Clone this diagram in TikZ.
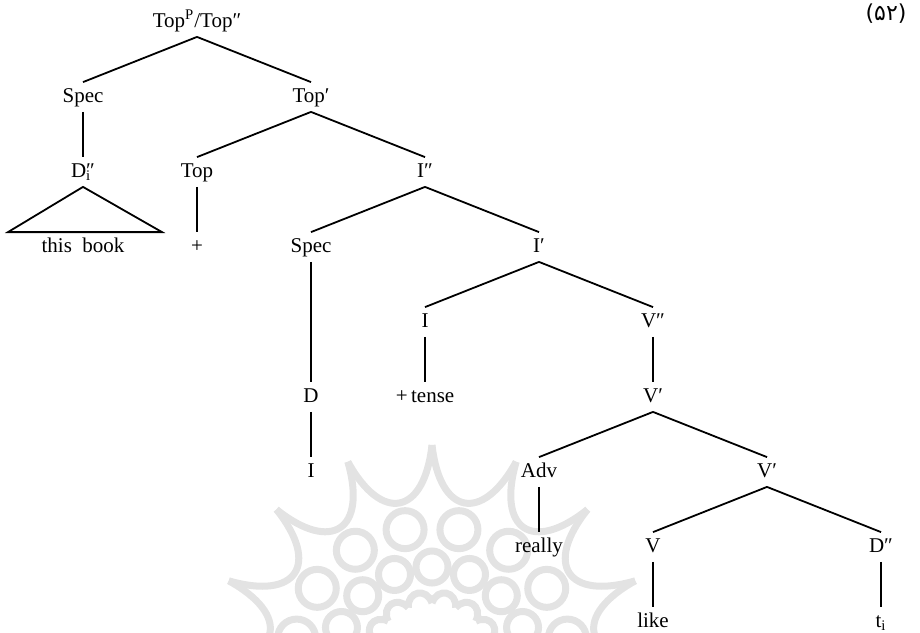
\documentclass[tikz,border=0pt]{standalone}
\usepackage{fontspec}
\setmainfont{Liberation Serif}
\newfontfamily\persianfont[Script=Arabic]{DejaVu Sans}
\usetikzlibrary{positioning, calc}

\begin{document}
\begin{tikzpicture}[
    cat/.style={inner sep=2.5pt, text height=7.5pt, text depth=2pt, font=\fontsize{10.5}{12}\selectfont},
    branch/.style={line width=0.9pt},
    rosette/.style={draw=gray!22, line width=3.5pt},
    on grid,
    node distance=37.5pt and 57pt
]
    \useasboundingbox (0,0) rectangle (460pt,-316pt);

    % Rosette in the background
    \begin{scope}
        \clip (0,0) rectangle (460pt,-316pt);
        \begin{scope}[shift={(216pt,-332.5pt)}, x=0.5pt, y=0.5pt]
            \foreach \k in {0,...,15} {
                \pgfmathsetmacro\a{90+22.5*\k}
                \draw[rosette] (\a:220) .. controls ({\a+3}:150) and ({\a+19.5}:150) .. ({\a+22.5}:220);
                \draw[rosette] ({\a+11.25}:138) circle (19);
                \draw[rosette] (\a:98) circle (16);
                \draw[rosette] (\a:62) .. controls ({\a+4}:78) and ({\a+18.5}:78) .. ({\a+22.5}:62);
            }
        \end{scope}
    \end{scope}

    % Example number
    \node[cat, font=\fontsize{11}{13}\persianfont] (exnum) at (443pt,-7.5pt) {(۵۲)};

    % Topic projection
    \node[cat] (root) at (98.5pt,-11pt) {Top\textsuperscript{P}/Top″};
    \node[cat, below left=of root] (spec1) {Spec};
    \node[cat, below right=of root] (topbar) {Top′};
    \node[cat, below=of spec1] (dpi) {D\rlap{\textsubscript{i}}″};
    \node[cat, below=of dpi] (thisbook) {this\enspace book};
    \node[cat, below left=of topbar] (tophead) {Top};
    \node[cat, below=of tophead] (plus) {+};

    % Inflection projection
    \node[cat, below right=of topbar] (ibar2) {I″};
    \node[cat, below left=of ibar2] (spec2) {Spec};
    \node[cat, below=75pt of spec2] (dhead) {D};
    \node[cat, below=of dhead] (pron) {I};
    \node[cat, below right=of ibar2] (ibar1) {I′};
    \node[cat, below left=of ibar1] (ihead) {I};
    \node[cat, below=of ihead] (tense) {+\thinspace tense};

    % Verb projection
    \node[cat, below right=of ibar1] (vbar2) {V″};
    \node[cat, below=of vbar2] (vbar1) {V′};
    \node[cat, below left=of vbar1] (adv) {Adv};
    \node[cat, below=of adv] (really) {really};
    \node[cat, below right=of vbar1] (vbar0) {V′};
    \node[cat, below left=of vbar0] (vhead) {V};
    \node[cat, below=of vhead] (like) {like};
    \node[cat, below right=of vbar0] (dbar) {D″};
    \node[cat, below=of dbar] (trace) {t\textsubscript{i}};

    % Triangle over the topic phrase
    \coordinate (triL) at ($(thisbook.north)+(-37.5pt,0)$);
    \coordinate (triR) at ($(thisbook.north)+(39.5pt,0)$);
    \draw[branch, line join=miter] (dpi.south) -- (triL) -- (triR) -- cycle;

    % Branches
    \draw[branch] (root.south) -- (spec1.north);
    \draw[branch] (root.south) -- (topbar.north);
    \draw[branch] (spec1.south) -- (dpi.north);
    \draw[branch] (topbar.south) -- (tophead.north);
    \draw[branch] (topbar.south) -- (ibar2.north);
    \draw[branch] (tophead.south) -- (plus.north);
    \draw[branch] (ibar2.south) -- (spec2.north);
    \draw[branch] (ibar2.south) -- (ibar1.north);
    \draw[branch] (spec2.south) -- (dhead.north);
    \draw[branch] (dhead.south) -- (pron.north);
    \draw[branch] (ibar1.south) -- (ihead.north);
    \draw[branch] (ibar1.south) -- (vbar2.north);
    \draw[branch] (ihead.south) -- (tense.north);
    \draw[branch] (vbar2.south) -- (vbar1.north);
    \draw[branch] (vbar1.south) -- (adv.north);
    \draw[branch] (vbar1.south) -- (vbar0.north);
    \draw[branch] (adv.south) -- (really.north);
    \draw[branch] (vbar0.south) -- (vhead.north);
    \draw[branch] (vbar0.south) -- (dbar.north);
    \draw[branch] (vhead.south) -- (like.north);
    \draw[branch] (dbar.south) -- (trace.north);
\end{tikzpicture}
\end{document}
